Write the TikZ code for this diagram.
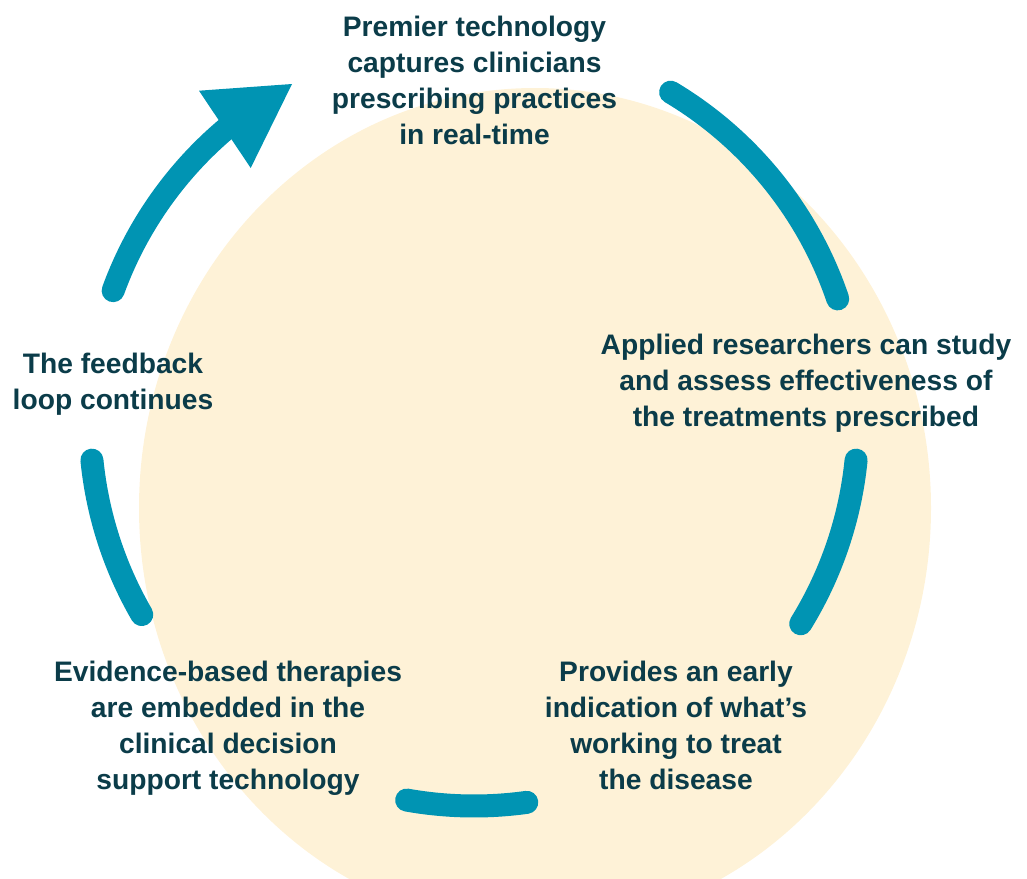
\documentclass[tikz,border=0pt]{standalone}
\usepackage{fontspec}
\setmainfont{Liberation Sans}
\usetikzlibrary{calc}
\definecolor{loopteal}{HTML}{0094B3}
\definecolor{discfill}{HTML}{FEF2D7}
\definecolor{inkdark}{HTML}{0B3C49}
\begin{document}
\begin{tikzpicture}[x=1pt,y=1pt,
  steplabel/.style={font=\fontsize{28.2}{36}\selectfont\bfseries, text=inkdark,
    align=center, inner sep=0pt, anchor=north},
  looparc/.style={draw=loopteal, line width=23pt, line cap=round}]
\useasboundingbox (0,0) rectangle (1027,-878);
\clip (0,0) rectangle (1027,-878);

% pale disc behind the cycle
\fill[discfill] (535,-508) ellipse [x radius=396, y radius=420];

% centre of the cycle of arcs
\coordinate (c) at (474,-422);

% arc segments of the loop
\draw[looparc] ($(c)+(59.2:384)$) arc[start angle=59.2, end angle=18.7, radius=384];
\draw[looparc] ($(c)+(-5.7:384)$) arc[start angle=-5.7, end angle=-31.7, radius=384];
\draw[looparc] ($(c)+(-100.1:384)$) arc[start angle=-100.1, end angle=-82.1, radius=384];
\draw[looparc] ($(c)+(185.7:384)$) arc[start angle=185.7, end angle=210.1, radius=384];

% closing arc with its arrowhead
\draw[looparc] ($(c)+(160:384)$) arc[start angle=160, end angle=128, radius=384];
\coordinate (tip) at (292,-84);
\coordinate (wingA) at (199,-90.7);
\coordinate (wingB) at (250.7,-168);
\fill[loopteal] (tip) -- (wingA) -- (wingB) -- cycle;

% step labels
\node[steplabel] (capture) at (474.5,-15.8)
  {Premier technology\\captures clinicians\\prescribing practices\\in real-time};
\node[steplabel] (study) at (806,-333.8)
  {Applied researchers can study\\and assess effectiveness of\\the treatments prescribed};
\node[steplabel] (early) at (676,-660.8)
  {Provides an early\\indication of what’s\\working to treat\\the disease};
\node[steplabel] (embed) at (228,-660.8)
  {Evidence-based therapies\\are embedded in the\\clinical decision\\support technology};
\node[steplabel] (again) at (113,-352.4)
  {The feedback\\loop continues};
\end{tikzpicture}
\end{document}
